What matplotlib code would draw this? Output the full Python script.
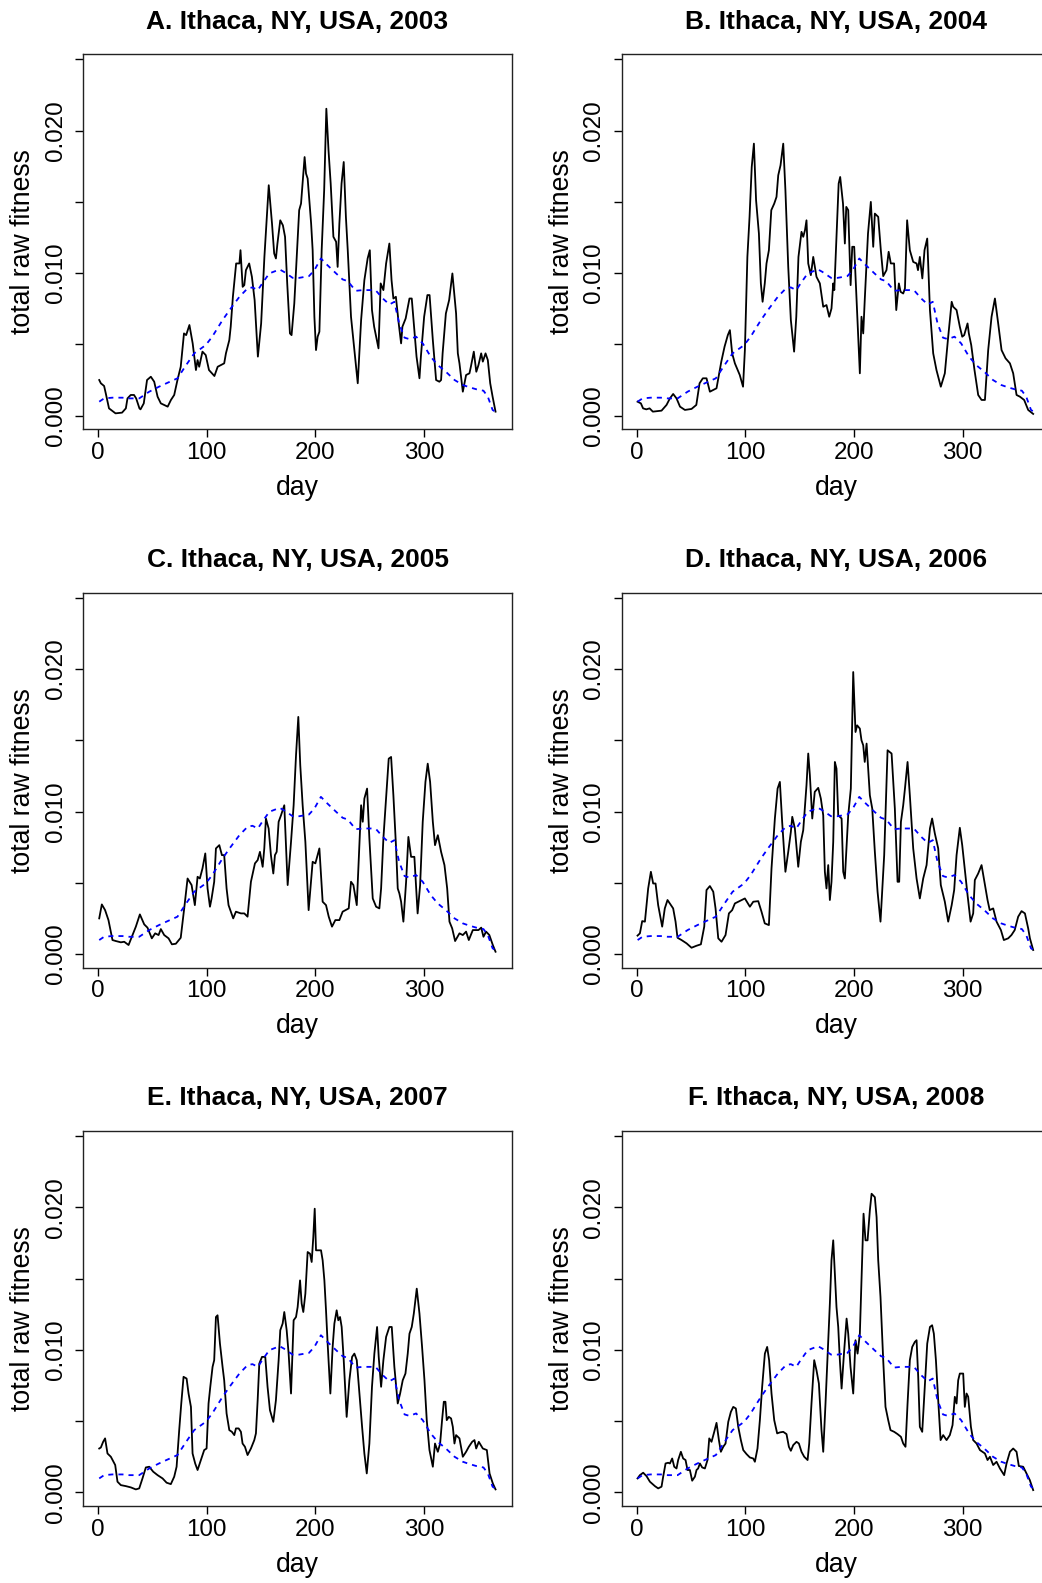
import matplotlib.pyplot as plt
import numpy as np

plt.rcParams['font.family'] = ['Liberation Sans', 'DejaVu Sans']

# fitness values below are in units of 0.001
titles = ['A. Ithaca, NY, USA, 2003', 'B. Ithaca, NY, USA, 2004',
          'C. Ithaca, NY, USA, 2005', 'D. Ithaca, NY, USA, 2006',
          'E. Ithaca, NY, USA, 2007', 'F. Ithaca, NY, USA, 2008']

# long-term mean (blue dashed), same in every panel
mean_day = [1, 5.5, 13, 22.4, 28.6, 37.8, 47, 56, 64, 73, 81, 88.4, 99, 105, 114.5, 122, 130, 137.5, 142, 147,
            151, 157.5, 167, 171, 179, 185, 194, 199, 205, 211, 219, 225, 229.7, 237, 243.5, 251, 255.8, 262, 268, 272.6,
            277, 282, 286.5, 292.6, 298.7, 306, 312.5, 320, 328, 335.6, 341.7, 348, 354.6, 358.6, 363, 365]
mean_fit = [0.98, 1.21, 1.26, 1.26, 1.21, 1.21, 1.68, 2.03, 2.31, 2.62, 3.55, 4.37, 4.95, 5.54, 6.71, 7.52, 8.34, 8.93, 9.00, 8.81,
            9.28, 9.98, 10.26, 10.09, 9.67, 9.67, 9.79, 10.21, 11.03, 10.56, 9.98, 9.56, 9.44, 8.76, 8.81, 8.81, 8.76, 8.22, 7.80, 7.99,
            6.47, 5.47, 5.37, 5.54, 5.07, 4.14, 3.55, 3.08, 2.50, 2.15, 1.99, 1.85, 1.75, 1.33, 0.40, 0.30]

day_2003 = [1, 2.5, 5.5, 7, 10, 16, 22, 25.5, 27, 30, 33, 35, 38, 39, 42, 45, 48.5, 51.6, 54.7, 57.7,
            64, 67, 70, 73, 76, 79, 81, 84, 87, 90, 91.5, 93, 96, 99, 102, 107, 110, 113, 116, 117.6,
            120.7, 122, 124, 127, 130, 131, 133, 134.5, 136, 139, 141.5, 144, 147, 150, 153, 157, 160, 162, 163.6, 165,
            167.6, 170, 172, 174, 176.5, 178, 180.5, 183.6, 185, 186.7, 190, 191.3, 192.8, 196, 197.4, 199, 200.5, 202, 203.6, 205.7,
            208, 210, 212, 214, 216.5, 219, 220.4, 222, 224, 226, 228, 229.7, 232.7, 235.8, 238.9, 242, 245, 248, 250, 252,
            254, 258, 260, 262.5, 265, 268, 270, 271.7, 274, 276.6, 278.8, 280, 283, 286.5, 288.6, 291, 293, 295.7, 297, 300,
            303, 305, 308, 311, 314, 315.6, 317, 320, 323, 326, 329.4, 331, 332.5, 335.6, 338.6, 341.7, 343, 345.7, 348, 350,
            352.5, 354, 356.5, 358.6, 360.8, 363, 365.7]
fit_2003 = [2.50, 2.27, 2.08, 1.57, 0.51, 0.16, 0.21, 0.51, 1.21, 1.45, 1.45, 1.21, 0.51, 0.44, 0.86, 2.50, 2.73, 2.38, 1.33, 0.86,
            0.63, 1.10, 1.45, 2.50, 3.43, 5.77, 5.65, 6.36, 5.07, 3.20, 3.90, 3.43, 4.49, 4.25, 3.20, 2.78, 3.43, 3.55, 3.67, 4.37,
            5.30, 6.24, 8.34, 10.68, 10.68, 11.61, 9.04, 9.16, 10.21, 10.68, 9.74, 8.11, 4.14, 6.47, 11.14, 16.17, 13.48, 11.38, 11.03, 12.08,
            13.71, 13.36, 12.55, 9.28, 5.77, 5.65, 7.87, 12.31, 14.42, 14.88, 18.15, 16.99, 16.64, 13.48, 11.61, 6.94, 4.60, 5.54, 5.89, 11.61,
            15.82, 21.54, 18.62, 16.29, 12.55, 12.20, 10.44, 13.48, 16.29, 17.80, 13.95, 11.61, 6.94, 4.60, 2.27, 6.71, 9.51, 11.03, 11.61, 7.41,
            6.24, 4.72, 9.28, 8.81, 10.68, 12.08, 9.51, 8.22, 8.34, 6.47, 5.07, 6.24, 6.82, 8.22, 8.22, 6.00, 4.14, 2.62, 4.14, 6.94,
            8.46, 8.46, 5.30, 2.50, 2.38, 2.50, 4.37, 7.17, 8.11, 9.98, 7.17, 4.37, 3.67, 1.68, 2.85, 2.97, 3.43, 4.49, 3.08, 3.55,
            4.37, 3.79, 4.37, 3.90, 2.27, 1.33, 0.28]

day_2004 = [0.9, 4, 6, 9, 12, 15, 23, 27.6, 30.7, 33.7, 36.8, 40, 44.5, 50.6, 55, 58, 61, 64.4, 67.5, 70.6,
            73.6, 78, 81, 84, 85.9, 88, 90.5, 95, 98, 99.7, 102, 104, 106, 108, 110, 112.6, 114.4, 116, 118, 119.6,
            121.8, 124, 126.7, 128.8, 130.4, 132.5, 135, 137, 139.6, 142, 145, 147, 149, 151.8, 153.4, 155, 156.4, 158, 160.4, 162.6,
            165.6, 168.7, 171.8, 174.8, 177.3, 179.4, 181, 182, 184, 186, 187.4, 190, 191.7, 193, 194.8, 197, 198.5, 200.3, 202.5, 205.5,
            207, 208.6, 210, 213, 215.6, 217.8, 219.3, 222.4, 224.8, 227, 230, 232, 234, 237, 239, 241.4, 243, 245.4, 247, 249,
            251.5, 254.6, 257.7, 259, 260.7, 263, 265, 267.5, 270, 273, 276, 280, 283.7, 286.8, 290, 291.4, 294.5, 297.5, 299.7, 301.5,
            304.6, 305.8, 308, 311, 314.4, 317.5, 320.6, 323.6, 326.7, 329.8, 332.8, 335.9, 339.6, 343.6, 346.6, 349.7, 352.8, 356.7, 360.4, 365]
fit_2004 = [0.98, 0.86, 0.51, 0.44, 0.51, 0.28, 0.35, 0.75, 1.21, 1.52, 1.21, 0.63, 0.40, 0.47, 0.75, 2.27, 2.62, 2.62, 1.68, 1.80,
            1.92, 3.79, 4.84, 5.65, 6.00, 4.37, 3.67, 2.85, 2.03, 4.60, 11.14, 13.95, 17.45, 19.09, 15.12, 12.78, 9.28, 7.99, 9.28, 10.68,
            11.61, 14.42, 14.88, 15.35, 16.87, 17.57, 19.09, 15.82, 10.44, 6.71, 4.49, 6.94, 11.14, 12.90, 12.55, 13.01, 13.71, 10.68, 9.86, 11.14,
            9.74, 9.28, 7.64, 7.76, 6.94, 7.52, 9.28, 8.81, 12.55, 16.29, 16.75, 14.88, 12.08, 14.65, 14.42, 9.16, 11.85, 11.85, 8.11, 2.97,
            6.94, 5.77, 8.11, 12.78, 15.00, 11.85, 14.18, 13.95, 11.61, 9.79, 10.21, 11.50, 10.68, 10.68, 7.41, 9.28, 8.69, 8.57, 8.93, 13.71,
            11.61, 10.79, 10.68, 10.21, 11.14, 9.63, 11.61, 12.43, 7.41, 4.37, 3.20, 2.03, 2.97, 5.54, 7.99, 7.64, 7.41, 6.24, 5.54, 5.65,
            6.47, 5.77, 4.95, 3.20, 1.45, 1.10, 1.10, 4.60, 6.94, 8.22, 6.47, 4.60, 4.02, 3.67, 2.97, 1.45, 1.33, 1.10, 0.40, 0.12]

day_2005 = [1, 3.4, 6.4, 9.5, 13.2, 16.3, 20.9, 24, 28, 31, 34.7, 38.4, 42.4, 45.4, 49.4, 52.5, 55.6, 57.7, 60.8, 64.8,
            67.9, 71.5, 76, 79.2, 82.3, 86, 89, 91.5, 93.6, 96, 98.6, 100.7, 102.9, 104.4, 106.8, 108.4, 111.5, 113.9, 116, 118.2,
            120, 124.3, 126.8, 131.4, 134.5, 137.5, 140.6, 144.3, 146.8, 148.9, 151.4, 152.9, 154.4, 156.9, 159, 161.2, 162.7, 164.3, 166.1, 168.3,
            171.3, 174.4, 177.5, 179.9, 182.1, 184.2, 186, 188.2, 190.7, 193.7, 195.9, 197.4, 199.9, 203.6, 206.6, 209.7, 212.2, 215.2, 218.3, 222,
            225, 230.6, 232.7, 234.9, 238, 240.4, 242, 243.5, 245, 247.5, 249.6, 252.7, 255.8, 258.8, 260.4, 262.5, 265.6, 267.4, 269.6, 271.7,
            274.2, 275.7, 277.2, 278.8, 280.9, 283.4, 285.5, 288, 291, 294, 296.3, 298.7, 301.2, 303.3, 305.5, 308, 310, 312.6, 315.6, 318.7,
            321.2, 323.3, 325.8, 328.5, 332.5, 335.6, 338.6, 341.1, 344.8, 350, 352.5, 354.6, 357, 360, 363.2, 365.7]
fit_2005 = [2.50, 3.48, 3.08, 2.38, 0.98, 0.91, 0.82, 0.86, 0.63, 1.21, 1.92, 2.78, 2.08, 1.85, 1.10, 1.45, 1.33, 1.75, 1.33, 1.10,
            0.68, 0.72, 1.14, 3.20, 5.30, 4.84, 3.43, 5.42, 5.30, 6.00, 7.06, 4.60, 3.32, 3.90, 5.07, 7.41, 7.64, 6.94, 6.94, 4.60,
            3.43, 2.50, 2.97, 2.85, 2.85, 2.62, 5.07, 6.36, 6.59, 7.17, 6.12, 7.41, 9.51, 8.81, 6.94, 5.65, 6.94, 7.17, 9.28, 9.74,
            10.44, 4.84, 7.87, 10.44, 13.95, 16.64, 13.25, 10.44, 7.87, 3.08, 5.07, 6.47, 6.36, 7.41, 3.67, 3.43, 2.62, 1.92, 2.38, 2.38,
            2.97, 3.20, 5.07, 4.84, 3.43, 7.64, 10.44, 9.28, 10.91, 11.61, 8.11, 3.90, 3.32, 3.20, 4.60, 8.11, 11.61, 13.71, 13.83, 11.14,
            7.41, 4.60, 4.25, 3.67, 2.27, 5.07, 8.22, 6.82, 6.82, 2.85, 4.84, 9.28, 12.08, 13.36, 12.08, 9.28, 7.64, 8.34, 7.17, 6.24,
            4.60, 2.27, 1.80, 0.91, 1.45, 1.33, 1.57, 0.98, 1.68, 1.68, 1.85, 1.21, 1.57, 1.33, 0.63, 0.16]

day_2006 = [0.9, 3.1, 5.2, 7.7, 10.7, 13.2, 15.3, 17.5, 19.9, 23.6, 26, 28.5, 31.6, 33.7, 35.9, 37.7, 41.4, 46, 50.6, 55.2,
            59.2, 62.3, 64.4, 67.5, 70.6, 72.7, 75.2, 78.2, 81.9, 85, 88, 90.5, 93.6, 96.6, 99.7, 104.3, 107.4, 112, 115, 118,
            121.8, 124.2, 127.3, 129.8, 131.9, 134, 137, 139.6, 142, 143.3, 145.7, 148.8, 151.2, 153.4, 156.4, 158, 159.5, 161.7, 164, 167.2,
            169.6, 171.8, 173.3, 174.8, 176.4, 177.9, 179.4, 181, 182.5, 184, 185.6, 188.7, 190.2, 191.7, 194.8, 197.2, 199.4, 201.5, 203, 205.5,
            207, 208.6, 210, 211.7, 214.7, 216.9, 219.3, 221.8, 224.5, 227.9, 231, 234.7, 237.7, 240.2, 241.7, 243.3, 245.4, 247, 249.4, 251.5,
            254.6, 257.7, 260.7, 263.8, 266.9, 270, 272, 274.5, 277.6, 280, 283.7, 286.8, 290, 292.3, 294.5, 297.5, 299.7, 302, 304.6, 307.4,
            309.8, 311.3, 314.4, 317.5, 320.6, 323, 325, 328.2, 331.3, 335.3, 338, 342, 345, 348, 351.2, 354.3, 357.4, 360.4, 362, 365]
fit_2006 = [1.29, 1.45, 2.31, 2.27, 4.60, 5.77, 4.95, 4.95, 3.43, 1.92, 3.20, 3.79, 3.43, 3.20, 2.27, 1.14, 0.98, 0.75, 0.44, 0.58,
            0.68, 1.92, 4.49, 4.77, 4.37, 3.20, 1.10, 0.86, 1.33, 2.85, 3.08, 3.55, 3.67, 3.79, 3.90, 3.32, 3.67, 3.71, 2.97, 2.15,
            2.03, 6.00, 9.51, 11.61, 12.08, 9.28, 5.77, 7.17, 8.57, 9.63, 8.81, 6.12, 7.87, 8.69, 11.85, 14.07, 12.55, 9.51, 11.38, 11.66,
            10.91, 9.74, 5.77, 4.60, 6.24, 3.79, 5.07, 7.87, 13.48, 13.01, 9.74, 9.51, 5.77, 5.30, 9.74, 11.61, 19.79, 15.58, 16.05, 15.82,
            15.00, 14.65, 13.48, 14.77, 11.14, 10.21, 7.17, 4.37, 2.27, 6.94, 14.30, 14.07, 10.21, 5.07, 5.07, 9.28, 10.44, 11.61, 13.48, 11.14,
            7.41, 5.30, 3.90, 5.30, 6.24, 8.81, 9.51, 8.46, 7.41, 4.84, 3.67, 2.27, 3.43, 4.49, 6.94, 8.86, 7.64, 6.00, 4.14, 2.27,
            2.85, 5.19, 5.65, 6.24, 4.84, 3.79, 3.08, 3.20, 2.27, 1.68, 0.98, 1.10, 1.33, 1.68, 2.62, 3.01, 2.85, 1.80, 1.10, 0.28]

day_2007 = [1, 2.5, 4.6, 6.4, 8.6, 11.7, 15.7, 17.8, 20.9, 25.5, 30.1, 34.7, 37.8, 40.8, 43.9, 47, 50.7, 54.7, 59.3, 63,
            66.9, 70, 72.2, 74.6, 76.5, 78.6, 81.4, 83.2, 85.4, 86.9, 89.3, 91.5, 94.6, 97.6, 99.8, 101.6, 103.2, 105.3, 106.8, 108.4,
            109.9, 112.1, 114.5, 116, 118.2, 120.7, 123.1, 125.3, 126.8, 129.3, 131.4, 132.9, 135.1, 137.5, 140.6, 143.7, 145.2, 146.8, 148.3, 150.8,
            153.8, 155.9, 158.1, 161.2, 163.6, 166.1, 167.6, 169.8, 171.3, 173.5, 175.3, 177.5, 179.9, 182.1, 183.6, 185.8, 187.3, 188.8, 190.7, 192.8,
            195, 196.5, 198, 199.3, 200.5, 203, 205.1, 206.6, 208.2, 209.7, 211.2, 213.7, 215.8, 217.4, 219.5, 221, 222.6, 224.1, 226, 228.7,
            231.2, 233.7, 235.8, 238, 240.4, 242.9, 245, 247.2, 249.6, 252, 254.2, 256.7, 258.2, 260.4, 262.5, 265, 268, 270.2, 272.6, 275.7,
            277.9, 280.3, 282.8, 284.9, 286.5, 288.6, 290.5, 293.2, 295.7, 298.1, 300.3, 302.4, 304.9, 308, 310, 312.6, 314.7, 316.5, 318.1, 319.6,
            320.8, 322.7, 324.8, 326.4, 327.9, 329.4, 332.5, 335.6, 338.6, 341.1, 344.2, 346.3, 347.9, 350.3, 354, 357.7, 360.2, 363.2, 365.7]
fit_2007 = [3.08, 3.15, 3.55, 3.79, 2.73, 2.50, 1.92, 0.75, 0.51, 0.44, 0.35, 0.21, 0.28, 0.98, 1.75, 1.80, 1.45, 1.21, 0.98, 0.68,
            0.58, 1.10, 1.80, 4.37, 6.24, 8.11, 7.99, 6.94, 6.00, 2.73, 2.03, 1.57, 2.27, 2.97, 3.08, 6.24, 7.41, 8.81, 9.28, 12.31,
            12.43, 10.44, 8.81, 7.87, 5.54, 4.37, 4.25, 4.02, 4.49, 4.49, 4.25, 3.43, 3.20, 2.62, 3.08, 3.67, 4.14, 6.47, 9.04, 9.51,
            9.51, 7.41, 5.77, 4.95, 6.47, 9.28, 11.38, 11.85, 12.66, 11.38, 9.74, 6.94, 12.08, 12.31, 13.01, 14.88, 13.25, 12.66, 13.95, 16.87,
            16.75, 16.17, 17.92, 19.91, 16.99, 16.99, 16.99, 16.29, 14.88, 12.78, 10.44, 6.94, 10.21, 11.85, 12.78, 12.08, 12.31, 11.61, 9.28, 5.30,
            7.87, 9.51, 9.74, 9.28, 6.94, 4.60, 2.73, 1.33, 3.43, 7.41, 9.74, 11.61, 9.51, 7.41, 9.28, 10.91, 11.61, 11.61, 8.81, 6.24,
            6.94, 7.87, 8.34, 9.74, 11.14, 11.61, 12.55, 14.30, 12.55, 10.21, 7.87, 5.07, 2.97, 1.80, 3.43, 2.85, 3.43, 5.07, 6.36, 6.36,
            5.07, 5.30, 5.19, 4.60, 3.43, 4.02, 3.79, 2.50, 2.85, 3.20, 3.55, 3.67, 3.08, 3.55, 3.08, 2.97, 1.33, 0.63, 0.21]

day_2008 = [0.9, 3.1, 6.1, 9.2, 12.3, 16.9, 19.9, 23, 24.5, 26.7, 29.1, 30.7, 32.8, 34.7, 36.8, 38.3, 40.8, 42.9, 45.1, 46.9,
            49.1, 51.2, 53.7, 55.2, 56.7, 58.3, 60.4, 62.9, 65.3, 66.9, 69, 71.5, 73.6, 75.8, 77.6, 79.8, 81.9, 84.4, 86.8, 89,
            91.4, 93.6, 96, 98.2, 101.2, 104.3, 107.4, 108.9, 111.3, 113.5, 115.6, 118.1, 120.2, 122, 124.2, 126.7, 129.4, 131.9, 135, 138,
            140.2, 142, 144.2, 147.2, 149.4, 151.8, 154.3, 157.4, 158.9, 161, 163.5, 165.6, 167.8, 170.2, 171.8, 173.9, 176.4, 177.9, 179.4, 181,
            182.5, 184, 185.6, 187.1, 188.7, 191.1, 193.3, 194.8, 196.9, 199.4, 201.5, 203.4, 205.5, 207, 208.9, 210.7, 212.6, 214.7, 216.3, 219.3,
            220.9, 222.4, 224.5, 227, 229.1, 231.6, 233.7, 237.1, 240.2, 243.3, 245.4, 247.5, 249.4, 251.5, 253.7, 256.1, 257.7, 259.2, 260.7, 262.9,
            265.3, 267.5, 270, 272, 273.6, 275.5, 277.6, 279.8, 282.2, 285.3, 288.3, 290.8, 292.9, 294.5, 296, 297.5, 300.6, 302.1, 303.7, 305.2,
            307.7, 309.8, 312.9, 316, 320.6, 323, 325.2, 328.2, 331.3, 334.4, 338.3, 340.5, 343.6, 346.6, 349.7, 351.8, 355.8, 358.9, 361.9, 365]
fit_2008 = [0.98, 1.21, 1.38, 1.14, 0.75, 0.44, 0.28, 0.40, 1.10, 2.03, 2.08, 2.03, 2.38, 1.80, 1.68, 2.27, 2.85, 2.38, 2.27, 1.57,
            1.57, 0.82, 1.10, 1.57, 1.68, 2.03, 1.75, 1.68, 2.27, 3.79, 3.55, 4.25, 4.88, 3.67, 2.85, 3.20, 3.43, 4.95, 5.65, 6.00,
            5.89, 4.60, 3.67, 2.97, 2.69, 2.45, 2.38, 2.15, 3.08, 5.07, 7.41, 9.74, 10.21, 9.28, 6.94, 5.07, 4.14, 4.21, 4.25, 4.09,
            3.20, 2.92, 3.32, 3.55, 3.43, 2.85, 2.50, 2.27, 3.43, 6.24, 9.28, 8.57, 7.64, 4.37, 2.85, 6.24, 10.68, 13.25, 16.29, 17.69,
            15.35, 13.01, 11.61, 9.28, 7.29, 9.98, 12.20, 11.14, 8.81, 6.94, 10.68, 9.74, 11.14, 14.88, 19.56, 17.69, 17.69, 19.79, 20.96, 20.72,
            19.32, 16.29, 13.71, 9.28, 6.00, 5.07, 4.37, 4.25, 4.09, 3.90, 3.43, 3.20, 6.24, 9.28, 10.21, 10.56, 10.68, 8.11, 4.60, 4.25,
            7.41, 10.44, 11.61, 11.73, 11.14, 9.28, 6.47, 3.67, 4.02, 3.67, 4.02, 4.72, 6.71, 6.24, 7.87, 8.34, 8.34, 6.00, 6.94, 6.71,
            4.60, 3.67, 3.43, 2.97, 2.73, 2.27, 2.50, 1.92, 2.15, 1.68, 1.21, 2.03, 2.85, 3.08, 2.85, 1.85, 1.80, 1.33, 0.86, 0.16]

days = [day_2003, day_2004, day_2005, day_2006, day_2007, day_2008]
fits = [fit_2003, fit_2004, fit_2005, fit_2006, fit_2007, fit_2008]

fig = plt.figure(figsize=(10.42, 15.83), dpi=100)

for i in range(6):
    col = i % 2
    row = i // 2
    # right column runs past the figure edge, like the cropped original
    ax = fig.add_axes([0.0800 + col * 0.5167, 0.7288 - row * 0.3401, 0.4111, 0.2369])
    ax.plot(days[i], np.array(fits[i]) * 1e-3, color='black', lw=1.3)
    ax.plot(mean_day, np.array(mean_fit) * 1e-3, color='blue', lw=1.3, ls=(0, (2.8, 2.8)))

    ax.set_xlim(-13.6, 380.6)
    ax.set_ylim(-0.00096, 0.02536)
    ax.set_xticks([0, 100, 200, 300])
    ax.set_yticks([0, 0.005, 0.010, 0.015, 0.020, 0.025])
    ax.set_yticklabels(['0.000', '', '0.010', '', '0.020', ''])
    ax.tick_params(direction='out', length=6, width=1, labelsize=17.4)
    ax.tick_params(axis='x', pad=3)
    ax.tick_params(axis='y', labelrotation=90, pad=6)
    for lab in ax.get_yticklabels():
        lab.set_va('center')
    for sp in ax.spines.values():
        sp.set_linewidth(1.0)
        sp.set_color('#222222')

    ax.set_xlabel('day', fontsize=19.2, labelpad=8)
    ax.set_ylabel('total raw fitness', fontsize=19.2, labelpad=6)
    ax.set_title(titles[i], fontsize=19, fontweight='bold', pad=18.5)

fig.savefig('out.png', dpi=100)
